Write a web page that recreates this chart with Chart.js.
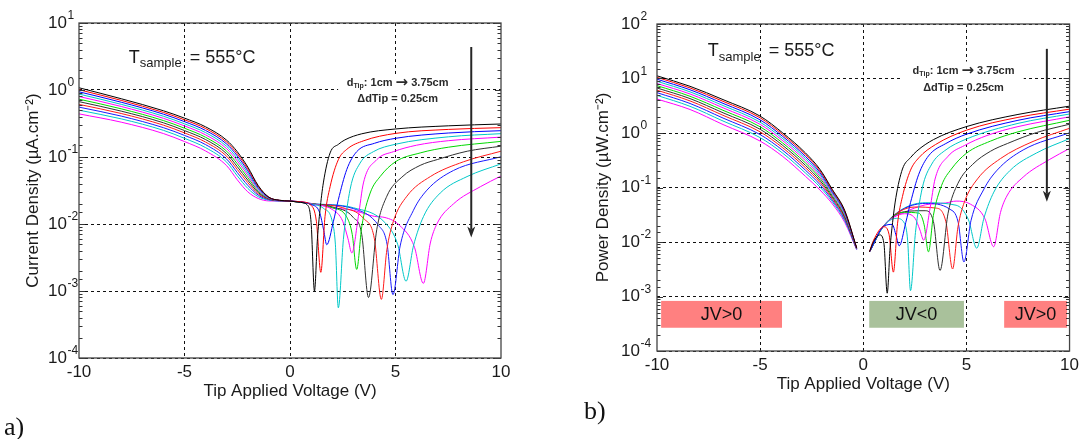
<!DOCTYPE html>
<html><head><meta charset="utf-8">
<script src="https://cdn.jsdelivr.net/npm/chart.js@4.4.0/dist/chart.umd.min.js"></script>
<style>
html,body{margin:0;padding:0;background:#fff;}
#wrap{position:relative;width:1083px;height:439px;overflow:hidden;background:#fff;}
#ca{position:absolute;left:0;top:0;width:520px;height:420px;}
#cb{position:absolute;left:540px;top:0;width:543px;height:420px;}
.plab{position:absolute;font-family:'Liberation Serif','Times New Roman',serif;font-size:26px;color:#111;line-height:1;}
</style></head><body>
<div id="wrap">
<canvas id="ca" width="520" height="420"></canvas>
<canvas id="cb" width="543" height="420"></canvas>
<div class="plab" style="left:4px;top:414px;">a)</div>
<div class="plab" style="left:584px;top:398px;">b)</div>
</div>
<script>
// ---------- data ----------
const curveLabels = ['1.00cm','1.25cm','1.50cm','1.75cm','2.00cm','2.25cm','2.50cm','2.75cm','3.00cm','3.25cm','3.50cm'];
const curveColors = ['#000000','#ff0000','#0000ff','#00c8c8','#ff00ff','#00d800','#303030','#ff1a1a','#1a1aff','#00c8c8','#ff00ff'];

// panel a : current density, negative-voltage branch
const voltsLeftA = [-10,-8,-6,-5,-4,-3,-2.5,-2,-1.5,-1,-0.5,0];
const jL1 = [1.08,.741,.49,.38,.282,.178,.12,.0708,.0372,.0251,.0226,.022];
const jL2 = [1.01,.70,.463,.359,.266,.167,.112,.0667,.0361,.025,.0226,.022];
const jL3 = [.94,.657,.436,.337,.249,.156,.104,.0622,.0348,.0248,.0225,.022];
const jL4 = [.87,.611,.406,.313,.231,.144,.0953,.0577,.0334,.0246,.0225,.022];
const jL5 = [.80,.568,.378,.291,.214,.133,.0873,.0535,.0321,.0243,.0224,.022];
const jL6 = [.73,.524,.35,.269,.197,.122,.0793,.0491,.0308,.0241,.0224,.022];
const jL7 = [.67,.484,.324,.248,.182,.112,.0719,.0451,.0294,.0238,.0223,.022];
const jL8 = [.61,.446,.299,.229,.167,.1026,.0653,.0414,.0282,.0235,.0223,.022];
const jL9 = [.555,.408,.274,.21,.153,.093,.0587,.0377,.0269,.0231,.0222,.022];
const jL10 = [.50,.371,.25,.19,.138,.0838,.0524,.034,.0255,.0227,.0221,.022];
const jL11 = [.44,.331,.224,.17,.123,.0741,.0457,.0302,.024,.0221,.022,.022];
// panel a : positive-voltage branch [V, J]
const jR1 = [[0.5,.021],[0.8,.0195],[1.0,.0105],[1.16,.001],[1.3,.006],[1.42,.016],[1.58,.041],[1.9,.115],[2.3,.155],[2.6,.18],[3.4,.222],[5,.262],[7.5,.292],[10,.311]];
const jR2 = [[0.5,.0215],[1.0,.019],[1.25,.011],[1.46,.0019],[1.66,.013],[1.9,.036],[2.29,.091],[2.69,.13],[3.5,.175],[5,.225],[7.5,.258],[10,.274]];
const jR3 = [[1.0,.0195],[1.4,.015],[1.6,.008],[1.74,.0049],[2.06,.011],[2.29,.023],[2.69,.065],[3.16,.12],[4,.16],[5,.19],[7.5,.228],[10,.247]];
const jR4 = [[1.0,.0198],[1.6,.017],[2.0,.011],[2.15,.005],[2.29,.00056],[2.53,.0059],[2.85,.033],[3.32,.081],[3.95,.12],[5,.155],[7.5,.2],[10,.223]];
const jR5 = [[1.0,.02],[2.0,.0165],[2.5,.011],[2.75,.006],[2.93,.0037],[3.24,.013],[3.48,.041],[4.11,.091],[4.9,.12],[6,.15],[7.5,.175],[10,.198]];
const jR6 = [[1,.02],[2,.0175],[2.7,.0125],[2.95,.007],[3.16,.0021],[3.4,.0091],[3.8,.029],[4.27,.051],[5,.085],[6.17,.115],[7.5,.14],[10,.171]];
const jR7 = [[1,.02],[2,.018],[3,.0125],[3.4,.007],[3.72,.0008],[4.11,.0082],[4.59,.026],[5.3,.05],[6.17,.075],[7,.092],[8.4,.122],[10,.145]];
const jR8 = [[1,.02],[2.5,.0175],[3.5,.012],[4.0,.006],[4.33,.00075],[4.59,.0041],[4.9,.011],[5.54,.026],[6.65,.051],[8.23,.085],[10,.122]];
const jR9 = [[1,.02],[3,.017],[4.2,.0095],[4.6,.005],[4.88,.00088],[5.22,.0047],[5.85,.016],[6.49,.032],[7.75,.063],[10,.101]];
const jR10 = [[1,.0202],[3,.0175],[4.5,.0105],[5.1,.005],[5.5,.0014],[5.85,.0047],[6.33,.013],[7.12,.029],[8.39,.051],[10,.079]];
const jR11 = [[1,.0203],[2,.0175],[3,.016],[4,.013],[4.5,.0125],[5.2,.0095],[5.9,.0045],[6.32,.0013],[6.65,.0052],[6.96,.010],[7.75,.02],[9.02,.036],[10,.052]];

// panel b : power density, negative-voltage branch
const voltsLeftB = [-10,-8.4,-6.8,-5,-3.9,-2.8,-2.1,-1.5,-0.9,-0.32];
const pL1 = [11.2,7.19,4.1,2.04,1.0,.43,.215,.092,.038,.0078];
const pL2 = [10.5,6.72,3.81,1.9,.933,.401,.202,.0882,.0367,.0078];
const pL3 = [9.7,6.21,3.5,1.74,.861,.37,.188,.084,.0353,.0077];
const pL4 = [8.9,5.69,3.19,1.58,.787,.339,.174,.0796,.0337,.0077];
const pL5 = [8.1,5.2,2.9,1.44,.72,.31,.161,.0753,.0322,.0076];
const pL6 = [7.4,4.72,2.61,1.3,.652,.281,.148,.0709,.0306,.0076];
const pL7 = [6.7,4.28,2.35,1.17,.59,.254,.135,.0667,.0291,.0075];
const pL8 = [6.1,3.88,2.11,1.05,.534,.23,.124,.0628,.0277,.0075];
const pL9 = [5.5,3.48,1.88,.934,.479,.207,.113,.0587,.0262,.0074];
const pL10 = [4.9,3.09,1.66,.823,.425,.184,.102,.0546,.0247,.0073];
const pL11 = [4.2,2.7,1.43,.71,.37,.16,.09,.0501,.023,.0072];
// panel b : positive-voltage branch [V, P]
const pR1 = [[0.3,.0066],[0.5,.0102],[0.8,.0135],[1.0,.0095],[1.16,.00115],[1.3,.0078],[1.42,.0227],[1.58,.065],[1.9,.2185],[2.3,.357],[2.6,.468],[3.4,.755],[5,1.31],[7.5,2.19],[10,3.11]];
const pR2 = [[0.3,.0066],[0.5,.0108],[1.0,.019],[1.25,.0138],[1.46,.0028],[1.66,.0216],[1.9,.0684],[2.29,.208],[2.69,.35],[3.5,.613],[5,1.125],[7.5,1.935],[10,2.74]];
const pR3 = [[0.3,.0066],[1.0,.0195],[1.4,.021],[1.6,.0128],[1.74,.0085],[2.06,.0227],[2.29,.0527],[2.69,.175],[3.16,.379],[4,.64],[5,.95],[7.5,1.71],[10,2.47]];
const pR4 = [[0.3,.0066],[1.0,.0198],[1.6,.0272],[2.0,.022],[2.15,.0108],[2.29,.00128],[2.53,.0149],[2.85,.094],[3.32,.269],[3.95,.474],[5,.775],[7.5,1.5],[10,2.23]];
const pR5 = [[0.3,.0066],[1.0,.02],[2.0,.033],[2.5,.0275],[2.75,.0165],[2.93,.0108],[3.24,.042],[3.48,.143],[4.11,.374],[4.9,.588],[6,.9],[7.5,1.31],[10,1.98]];
const pR6 = [[0.3,.0066],[1,.02],[2,.035],[2.7,.0338],[2.95,.0207],[3.16,.0066],[3.4,.0309],[3.8,.11],[4.27,.218],[5,.425],[6.17,.71],[7.5,1.05],[10,1.71]];
const pR7 = [[0.3,.0066],[1,.02],[2,.036],[3,.0375],[3.4,.0238],[3.72,.003],[4.11,.0337],[4.59,.119],[5.3,.265],[6.17,.463],[7,.644],[8.4,1.02],[10,1.45]];
const pR8 = [[0.3,.0066],[1,.02],[2.5,.0438],[3.5,.042],[4.0,.024],[4.33,.0032],[4.59,.0188],[4.9,.0539],[5.54,.144],[6.65,.339],[8.23,.70],[10,1.22]];
const pR9 = [[0.3,.0066],[1,.02],[3,.051],[4.2,.0399],[4.6,.023],[4.88,.0043],[5.22,.0245],[5.85,.0936],[6.49,.208],[7.75,.488],[10,1.01]];
const pR10 = [[0.3,.0066],[1,.0202],[3,.0525],[4.5,.0473],[5.1,.0255],[5.5,.0077],[5.85,.0275],[6.33,.0823],[7.12,.206],[8.39,.428],[10,.79]];
const pR11 = [[0.3,.0066],[1,.0203],[2,.035],[3,.048],[4,.052],[4.5,.0563],[5.2,.0494],[5.9,.0266],[6.32,.0082],[6.65,.0346],[6.96,.0696],[7.75,.155],[9.02,.325],[10,.52]];

const xTicks = [-10,-5,0,5,10];
const expA = [-4,-3,-2,-1,0,1];
const expB = [-4,-3,-2,-1,0,1,2];

// ---------- annotation settings (data units) ----------
const annA = {
  tLabel:{x:-7.64, y:3.03},
  dLabel:{x:5.1, y1:1.285, y2:0.74},
  blank:{x0:2.28, x1:7.97, y0:1.63, y1:0.583},
  arrow:{x:8.59, y0:4.38, y1:0.0063},
  boxes:[]
};
const annB = {
  tLabel:{x:-7.54, y:31.3},
  dLabel:{x:4.86, y1:13.6, y2:6.75},
  blank:{x0:1.84, x1:7.78, y0:20.5, y1:4.68},
  arrow:{x:8.9, y0:35, y1:0.055},
  boxes:[
    {x0:-9.8, x1:-3.94, y0:8.3e-4, y1:2.67e-4, text:'JV>0', color:'#ff8080'},
    {x0:0.29, x1:4.88, y0:8.3e-4, y1:2.67e-4, text:'JV<0', color:'#a9c19b'},
    {x0:6.83, x1:9.88, y0:8.3e-4, y1:2.67e-4, text:'JV>0', color:'#ff8080'}
  ]
};

// ---------- helpers ----------
const FONT = '"Liberation Sans", Arial, sans-serif';
function isDecade(v){ const l = Math.log10(v); return Math.abs(l - Math.round(l)) < 1e-6; }

function buildSets(volts, lefts, rights, gapAtZero){
  return lefts.map((arr, i) => {
    const pts = arr.map((v, k) => ({x: volts[k], y: v}));
    if (gapAtZero) pts.push({x: 0, y: null});
    rights[i].forEach(p => pts.push({x: p[0], y: p[1]}));
    return {
      label: curveLabels[i], data: pts, borderColor: curveColors[i],
      borderWidth: 1, pointRadius: 0, fill: false,
      cubicInterpolationMode: 'monotone', spanGaps: false
    };
  });
}

function decorPlugin(ann, exps, labGap){
  return {
    id: 'decor',
    beforeDraw(chart){
      const {ctx, scales:{x, y}} = chart;
      ctx.save();
      ann.boxes.forEach(b => {
        const X0 = x.getPixelForValue(b.x0), X1 = x.getPixelForValue(b.x1);
        const Y0 = y.getPixelForValue(b.y0), Y1 = y.getPixelForValue(b.y1);
        ctx.fillStyle = b.color;
        ctx.fillRect(X0, Y0, X1 - X0, Y1 - Y0);
        ctx.fillStyle = '#111';
        ctx.font = '18px ' + FONT;
        ctx.textAlign = 'center'; ctx.textBaseline = 'middle';
        ctx.fillText(b.text, (X0 + X1) / 2, (Y0 + Y1) / 2 + 1);
      });
      ctx.restore();
    },
    beforeDatasetsDraw(chart){
      const {ctx, scales:{x, y}} = chart;
      ctx.save();
      // white background for the distance note
      const bl = ann.blank;
      const BX0 = x.getPixelForValue(bl.x0), BX1 = x.getPixelForValue(bl.x1);
      const BY0 = y.getPixelForValue(bl.y0), BY1 = y.getPixelForValue(bl.y1);
      ctx.fillStyle = '#fff';
      ctx.fillRect(BX0, BY0, BX1 - BX0, BY1 - BY0);
      // distance note
      const d = ann.dLabel;
      const cx = x.getPixelForValue(d.x);
      const yl1 = y.getPixelForValue(d.y1), yl2 = y.getPixelForValue(d.y2);
      ctx.fillStyle = '#2a2a2a';
      ctx.textBaseline = 'middle'; ctx.textAlign = 'left';
      const fMain = 'bold 11px ' + FONT, fSub = 'bold 7px ' + FONT, fArr = 'bold 15px "DejaVu Sans", sans-serif';
      const p1 = ': 1cm ', p2 = '\u2192', p3 = ' 3.75cm';
      ctx.font = fMain;
      const wD = ctx.measureText('d').width, w1 = ctx.measureText(p1).width, w3 = ctx.measureText(p3).width;
      ctx.font = fSub; const wS = ctx.measureText('Tip').width;
      ctx.font = fArr; const w2 = ctx.measureText(p2).width;
      let sx = cx - (wD + wS + w1 + w2 + w3) / 2;
      ctx.font = fMain; ctx.fillText('d', sx, yl1); sx += wD;
      ctx.font = fSub; ctx.fillText('Tip', sx, yl1 + 3); sx += wS;
      ctx.font = fMain; ctx.fillText(p1, sx, yl1); sx += w1;
      ctx.font = fArr; ctx.fillText(p2, sx, yl1); sx += w2;
      ctx.font = fMain; ctx.fillText(p3, sx, yl1);
      ctx.textAlign = 'center';
      ctx.fillText('\u0394dTip = 0.25cm', cx, yl2);
      // temperature note
      const t = ann.tLabel;
      const tx = x.getPixelForValue(t.x), ty = y.getPixelForValue(t.y);
      ctx.fillStyle = '#1a1a1a'; ctx.textAlign = 'left';
      ctx.font = '18px ' + FONT; ctx.fillText('T', tx, ty);
      const wT = ctx.measureText('T').width;
      ctx.font = '13px ' + FONT; ctx.fillText('sample', tx + wT, ty + 6);
      const wsm = ctx.measureText('sample').width;
      ctx.font = '18px ' + FONT; ctx.fillText('= 555\u00B0C', tx + wT + wsm + 8, ty);
      ctx.restore();
    },
    afterDraw(chart){
      const {ctx, chartArea:a, scales:{x, y}} = chart;
      ctx.save();
      // inner tick marks on left and right edges
      ctx.strokeStyle = '#333'; ctx.lineWidth = 1;
      y.ticks.forEach(tk => {
        const py = Math.round(y.getPixelForValue(tk.value)) + 0.5;
        const L = isDecade(tk.value) ? 6 : 3.5;
        ctx.beginPath();
        ctx.moveTo(a.left, py); ctx.lineTo(a.left + L, py);
        ctx.moveTo(a.right, py); ctx.lineTo(a.right - L, py);
        ctx.stroke();
      });
      // frame
      ctx.strokeStyle = '#444'; ctx.lineWidth = 1.3;
      ctx.strokeRect(a.left, a.top, a.right - a.left, a.bottom - a.top);
      // y tick labels 10^n
      ctx.fillStyle = '#1a1a1a';
      exps.forEach(e => {
        const py = y.getPixelForValue(Math.pow(10, e));
        ctx.font = '17px ' + FONT; ctx.textAlign = 'right'; ctx.textBaseline = 'middle';
        ctx.fillText('10', a.left - labGap, py);
        ctx.font = '12px ' + FONT; ctx.textAlign = 'left';
        ctx.fillText(String(e), a.left - labGap + 0.5, py - 7);
      });
      // arrow
      const ar = ann.arrow;
      const ax = x.getPixelForValue(ar.x), ay0 = y.getPixelForValue(ar.y0), ay1 = y.getPixelForValue(ar.y1);
      ctx.strokeStyle = '#262626'; ctx.fillStyle = '#262626'; ctx.lineWidth = 2;
      ctx.beginPath(); ctx.moveTo(ax, ay0); ctx.lineTo(ax, ay1 - 8); ctx.stroke();
      ctx.beginPath(); ctx.moveTo(ax, ay1); ctx.lineTo(ax - 4, ay1 - 11); ctx.lineTo(ax, ay1 - 8); ctx.lineTo(ax + 4, ay1 - 11); ctx.closePath(); ctx.fill();
      ctx.restore();
    }
  };
}

function makeChart(id, sets, yMin, yMax, yTitle, pad, yWidth, yTitlePad, ann, exps, labGap){
  return new Chart(document.getElementById(id), {
    type: 'line',
    data: { datasets: sets },
    options: {
      responsive: false, animation: false, events: [],
      layout: { padding: pad },
      plugins: { legend: { display: false }, tooltip: { enabled: false } },
      scales: {
        x: {
          type: 'linear', min: -10, max: 10,
          afterBuildTicks: s => { s.ticks = xTicks.map(v => ({value: v})); },
          afterFit: s => { s.height = 45; },
          ticks: { font: { size: 17, family: FONT }, color: '#1a1a1a', padding: 4, maxRotation: 0 },
          grid: { drawTicks: false, lineWidth: 1,
                  color: c => (c.tick && Math.abs(c.tick.value) < 9.99) ? '#111' : 'rgba(0,0,0,0)' },
          border: { display: false, dash: [3, 3] },
          title: { display: true, text: 'Tip Applied Voltage (V)', font: { size: 17, family: FONT }, color: '#1a1a1a', padding: { top: 0, bottom: 1 } }
        },
        y: {
          type: 'logarithmic', min: yMin, max: yMax,
          afterFit: s => { s.width = yWidth; },
          ticks: { display: false },
          grid: { drawTicks: false, lineWidth: 1,
                  color: c => (c.tick && isDecade(c.tick.value)) ? '#111' : 'rgba(0,0,0,0)' },
          border: { display: false, dash: [3, 3] },
          title: { display: true, text: yTitle, font: { size: 17, family: FONT }, color: '#1a1a1a', padding: { top: yTitlePad, bottom: 0 } }
        }
      }
    },
    plugins: [decorPlugin(ann, exps, labGap)]
  });
}

const setsA = buildSets(voltsLeftA, [jL1,jL2,jL3,jL4,jL5,jL6,jL7,jL8,jL9,jL10,jL11], [jR1,jR2,jR3,jR4,jR5,jR6,jR7,jR8,jR9,jR10,jR11], false);
const setsB = buildSets(voltsLeftB, [pL1,pL2,pL3,pL4,pL5,pL6,pL7,pL8,pL9,pL10,pL11], [pR1,pR2,pR3,pR4,pR5,pR6,pR7,pR8,pR9,pR10,pR11], true);

makeChart('ca', setsA, 1e-4, 10, 'Current Density (\u00B5A.cm\u207B\u00B2)', {top:23, bottom:17, left:0, right:19}, 79, 23, annA, expA, 12);
makeChart('cb', setsB, 1e-4, 100, 'Power Density (\u00B5W.cm\u207B\u00B2)', {top:24, bottom:24, left:0, right:12}, 117, 53, annB, expB, 17);
</script>
</body></html>
